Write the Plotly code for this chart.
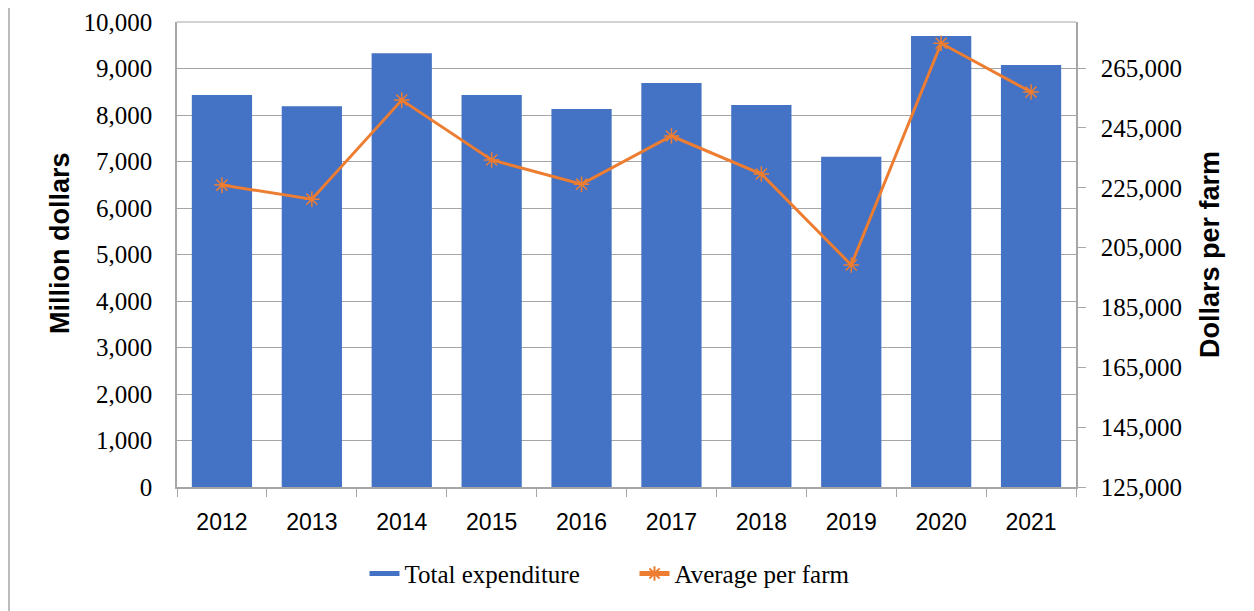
import plotly.graph_objects as go

years = ["2012", "2013", "2014", "2015", "2016", "2017", "2018", "2019", "2020", "2021"]
total_expenditure = [8430, 8190, 9330, 8430, 8130, 8690, 8215, 7100, 9700, 9075]
average_per_farm = [225900, 221200, 254300, 234300, 226200, 242300, 229600, 199200, 273300, 257000]

left_ticks = list(range(0, 10001, 1000))
right_ticks = list(range(125000, 265001, 20000))

serif = "Liberation Serif"
sans = "Liberation Sans"
blue = "#4472C4"
orange = "#ED7D31"
grey = "#A6A6A6"

fig = go.Figure()
fig.add_trace(go.Bar(
    x=years, y=total_expenditure, name="Total expenditure", showlegend=False,
    marker=dict(color=blue, line=dict(width=0)),
))
# legend proxy for the bar series (wide rectangle swatch)
fig.add_trace(go.Scatter(
    x=[None], y=[None], name="Total expenditure", mode="lines",
    line=dict(color=blue, width=15),
))
fig.add_trace(go.Scatter(
    x=years, y=average_per_farm, name="Average per farm", yaxis="y2",
    mode="lines+markers",
    line=dict(color=orange, width=3),
    marker=dict(symbol="asterisk-open", size=13, color=orange,
                line=dict(color=orange, width=1.5)),
))

fig.update_layout(
    width=1246, height=603,
    margin=dict(l=169, r=178, t=14, b=124),
    paper_bgcolor="white", plot_bgcolor="white",
    bargap=0.33,
    showlegend=True,
    legend=dict(orientation="h", x=0.5089, xanchor="center", y=-0.137, yanchor="top",
                font=dict(family=serif, size=25, color="black"),
                tracegroupgap=0, itemsizing="constant", entrywidth=225),
    xaxis=dict(
        type="category", automargin=False, range=[-0.5, len(years) - 0.5],
        showline=True, linecolor=grey, linewidth=1.5,
        ticks="outside", tickson="boundaries", ticklen=8, tickcolor=grey,
        tickfont=dict(family=sans, size=23, color="black"),
        ticklabelstandoff=14,
        showgrid=False,
    ),
    yaxis=dict(
        range=[0, 10000], tickvals=left_ticks, tickformat=",", automargin=False,
        showline=True, linecolor=grey, linewidth=1.5,
        showgrid=True, gridcolor=grey, gridwidth=1,
        ticks="", ticklen=0, ticklabelstandoff=18,
        tickfont=dict(family=serif, size=25, color="black"),
        zeroline=False,
    ),
    yaxis2=dict(
        overlaying="y", side="right", automargin=False,
        range=[125000, 280400], tickvals=right_ticks, tickformat=",",
        showline=True, linecolor=grey, linewidth=1.5,
        showgrid=False,
        ticks="outside", ticklen=8, tickcolor=grey, ticklabelstandoff=10,
        tickfont=dict(family=serif, size=25, color="black"),
        zeroline=False,
    ),
    annotations=[
        dict(text="<b>Million dollars</b>", xref="paper", yref="paper",
             x=(60 - 177) / 899, y=(487 - 243) / 465, xanchor="center", yanchor="middle",
             textangle=-90, showarrow=False,
             font=dict(family=sans, size=27, color="black")),
        dict(text="<b>Dollars per farm</b>", xref="paper", yref="paper",
             x=(1210 - 177) / 899, y=(487 - 255) / 465, xanchor="center", yanchor="middle",
             textangle=-90, showarrow=False,
             font=dict(family=sans, size=27, color="black")),
    ],
    shapes=[
        dict(type="line", xref="paper", yref="paper",
             x0=(9 - 177) / 899, x1=(9 - 177) / 899, y0=-124 / 465, y1=1 + 22 / 465,
             line=dict(color=grey, width=1.5)),
        dict(type="line", xref="paper", yref="paper",
             x0=0, x1=1, y0=1, y1=1, line=dict(color=grey, width=1)),
    ],
)

fig.write_html("out.html")
